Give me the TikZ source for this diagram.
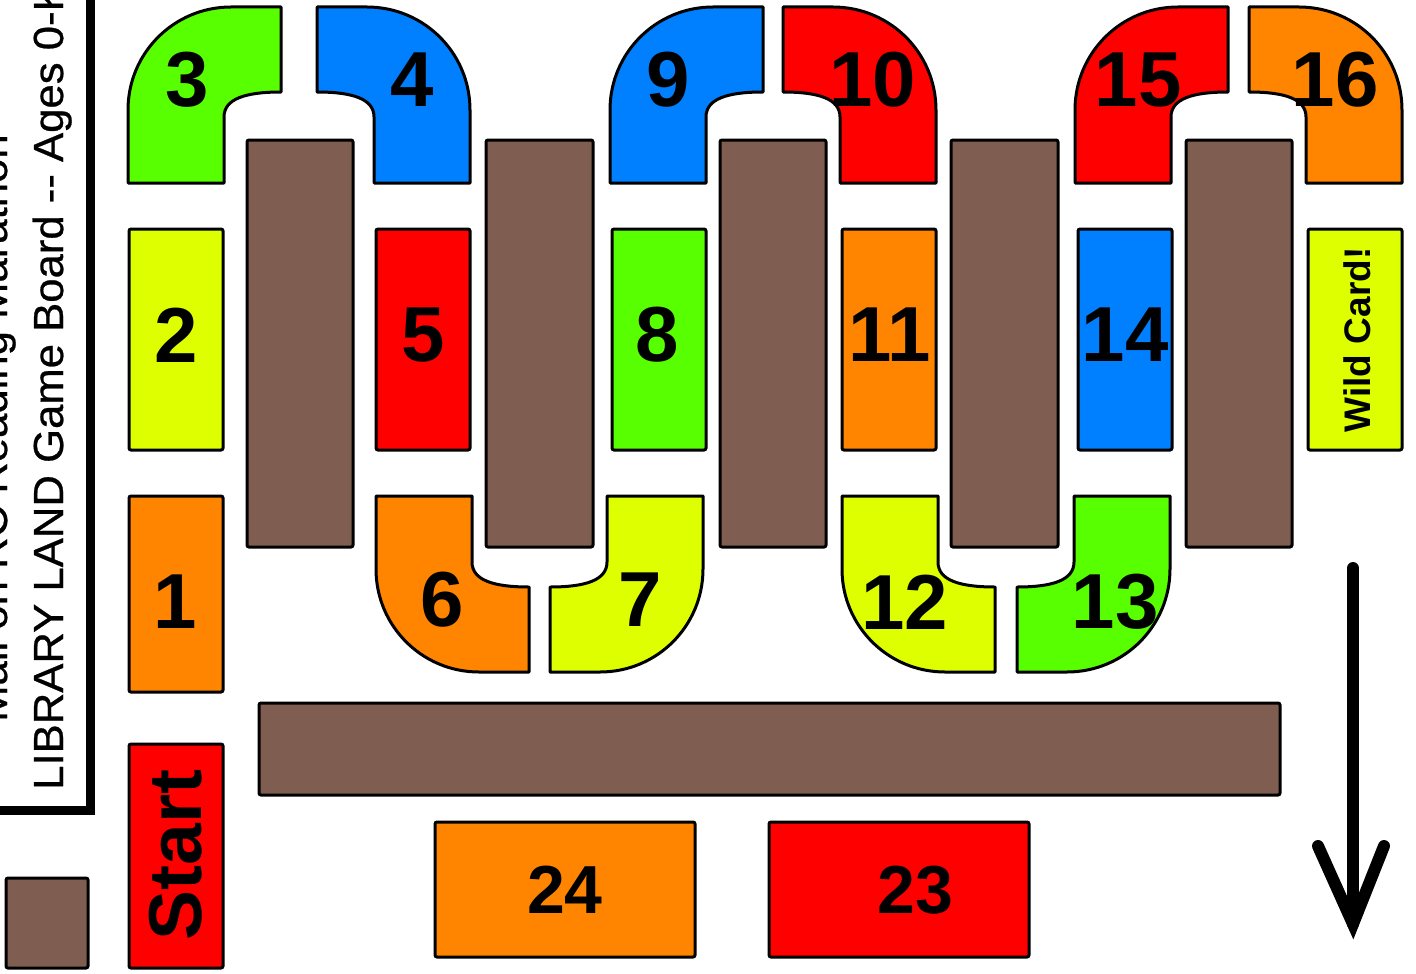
\documentclass[tikz,border=0pt]{standalone}
\usepackage{fontspec}
\setmainfont{Liberation Sans}
\newfontfamily\sidefont[FakeStretch=1.04, FakeBold=0.6]{Liberation Sans}
\definecolor{cgreen}{HTML}{58FF00}
\definecolor{cblue}{HTML}{0080FF}
\definecolor{cred}{HTML}{FF0000}
\definecolor{corange}{HTML}{FF8400}
\definecolor{cyellow}{HTML}{DDFF00}
\definecolor{cbrown}{HTML}{7F5E51}
\newcommand\curvetile[5]{%
  \begin{scope}[shift={(#1,#2)}, xscale=#3, yscale=#4]
    \draw[tileline, fill=#5] (0,176) -- (0,103) .. controls (0,46) and (46,0) .. (103,0)
      -- (153,0) -- (153,85) .. controls (117,85) and (96,92) .. (96,110) -- (96,176) -- cycle;
  \end{scope}}
\begin{document}
\begin{tikzpicture}[x=1pt,y=-1pt,
  tileline/.style={draw=black, line width=3pt, line join=round},
  tile/.style={draw=black, line width=3pt, rounded corners=2pt},
  num/.style={inner sep=0pt, font=\bfseries\fontsize{78}{80}\selectfont},
  bignum/.style={inner sep=0pt, font=\bfseries\fontsize{68}{70}\selectfont},
  side/.style={inner sep=0pt, rotate=90, anchor=base west, font=\sidefont\fontsize{42}{48}\selectfont}]
\useasboundingbox (0,0) rectangle (1416,974);
\clip (0,0) rectangle (1416,974);

% side title box
\fill[white] (-20,-20) rectangle (90,810);
\node[side] (title1) at (7,722) {Mall on RC Reading Marathon};
\node[side] (title2) at (63,790) {LIBRARY LAND Game Board {-}{-} Ages 0-K};
\draw[line width=9pt] (-20,810) -- (90,810) -- (90,-20);

% legend square
\draw[tile, fill=cbrown] (6,878) rectangle (88,968);

% brown bars
\foreach \xa/\xb in {247/353, 486/593, 720/826, 951/1058, 1186/1292}
  \draw[tile, fill=cbrown] (\xa,140) rectangle (\xb,547);
\draw[tile, fill=cbrown] (259,703) rectangle (1280,795);

% straight tiles
\draw[tile, fill=cyellow] (129,229) rectangle (223,450);
\draw[tile, fill=corange] (129,496) rectangle (223,692);
\draw[tile, fill=cred] (129,744) rectangle (223,968);
\draw[tile, fill=cred] (376,229) rectangle (470,450);
\draw[tile, fill=cgreen] (612,229) rectangle (706,450);
\draw[tile, fill=corange] (842,229) rectangle (936,450);
\draw[tile, fill=cblue] (1078,229) rectangle (1172,450);
\draw[tile, fill=cyellow] (1308,229) rectangle (1402,450);
\draw[tile, fill=corange] (435,822) rectangle (695,957);
\draw[tile, fill=cred] (769,822) rectangle (1029,957);

% curved tiles
\curvetile{128}{7}{1}{1}{cgreen}
\curvetile{470}{7}{-1}{1}{cblue}
\curvetile{610}{7}{1}{1}{cblue}
\curvetile{936}{7}{-1}{1}{cred}
\curvetile{1075}{7}{1}{1}{cred}
\curvetile{1402}{7}{-1}{1}{corange}
\curvetile{376}{672}{1}{-1}{corange}
\curvetile{703}{672}{-1}{-1}{cyellow}
\curvetile{842}{672}{1}{-1}{cyellow}
\curvetile{1170}{672}{-1}{-1}{cgreen}

% labels
\node[num] (n3) at (187,80) {3};
\node[num] (n4) at (412,80) {4};
\node[num] (n9) at (668,80) {9};
\node[num] (n10) at (873,80) {10};
\node[num] (n15) at (1138,80) {15};
\node[num] (n16) at (1335,80) {16};
\node[num] (n2) at (176,335) {2};
\node[num] (n5) at (423,335) {5};
\node[num] (n8) at (657,335) {8};
\node[num] (n11) at (890,335) {11};
\node[num] (n14) at (1125,335) {14};
\node[num] (n1) at (175,602) {1};
\node[num] (n6) at (442,600) {6};
\node[num] (n7) at (640,600) {7};
\node[num] (n12) at (905,602) {12};
\node[num] (n13) at (1115,602) {13};
\node[bignum] (n24) at (565,890) {24};
\node[bignum] (n23) at (915,890) {23};
\node[inner sep=0pt, rotate=90, font=\bfseries\fontsize{75}{77}\selectfont] (start) at (176,855) {Start};
\node[inner sep=0pt, rotate=90, font=\bfseries\fontsize{37}{40}\selectfont] (wild) at (1357,340) {Wild Card!};

% direction arrow
\coordinate (atop) at (1353,568);
\coordinate (atip) at (1353,924);
\coordinate (aleft) at (1318,846);
\coordinate (aright) at (1384,846);
\draw[line width=12pt, line cap=round] (atop) -- (atip);
\draw[line width=12pt, line cap=round, line join=miter] (aleft) -- (atip) -- (aright);
\end{tikzpicture}
\end{document}
